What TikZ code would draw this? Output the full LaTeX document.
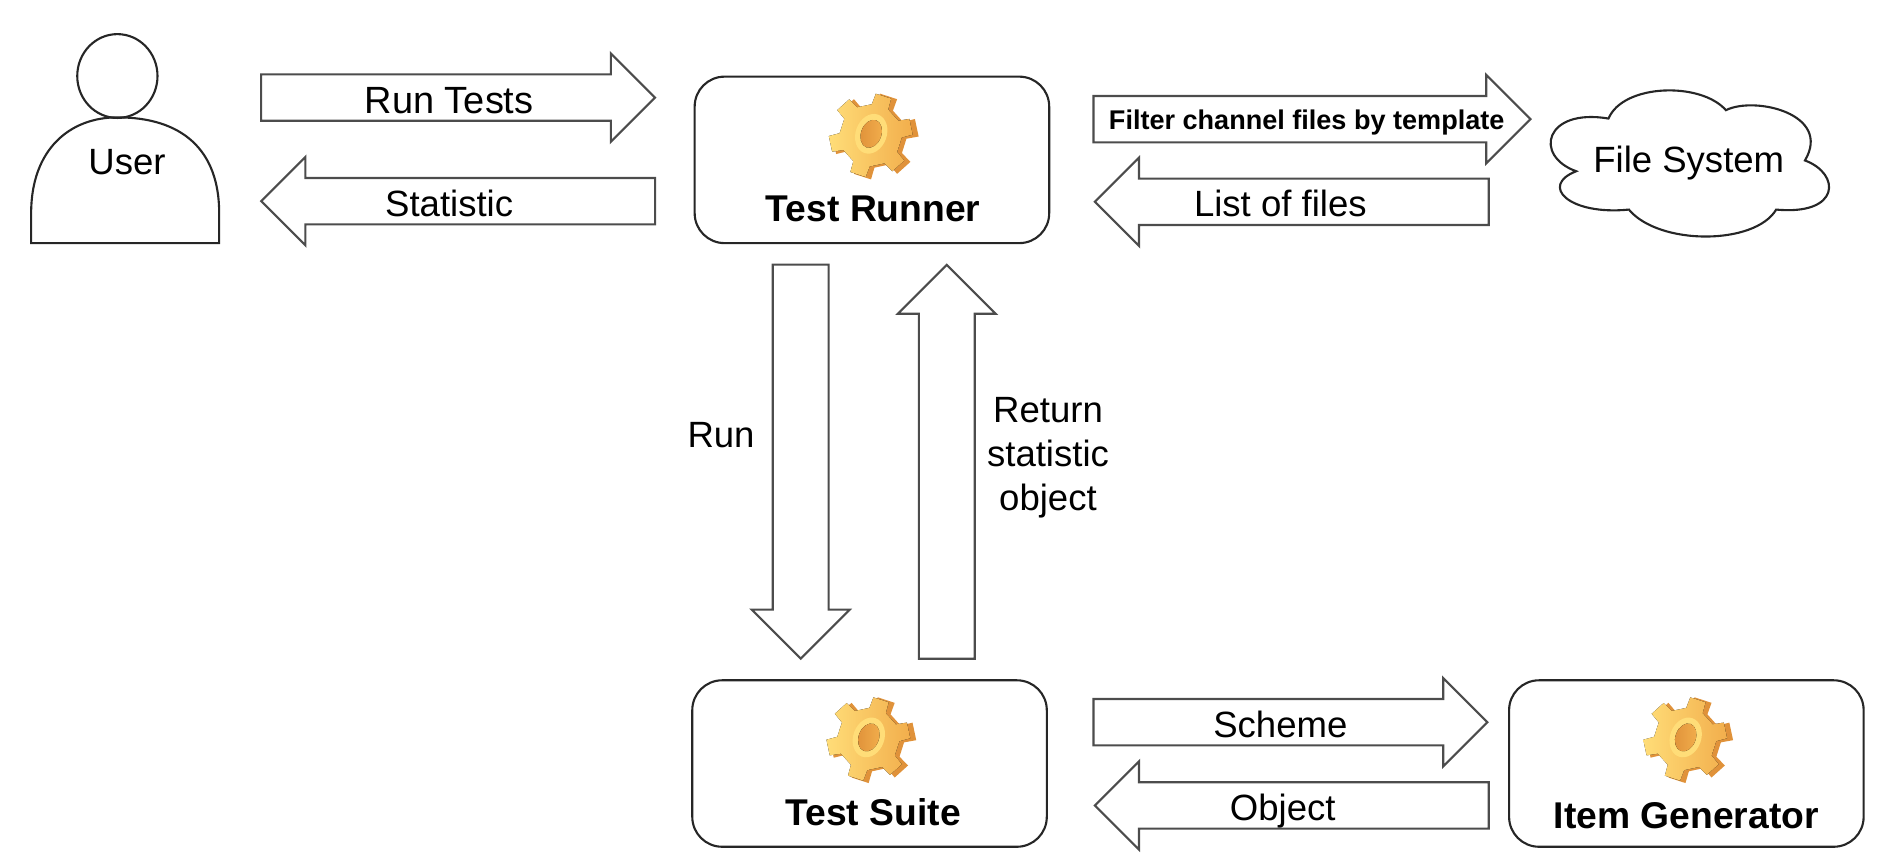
\documentclass[tikz,border=0pt]{standalone}
\usepackage{fontspec}
\setmainfont{Liberation Sans}
\usetikzlibrary{positioning,shapes.arrows}
\definecolor{gearlight}{HTML}{FFDD78}
\definecolor{gearmid}{HTML}{F2AE4C}
\definecolor{geardark}{HTML}{E0923A}
\tikzset{
  label text/.style={font=\fontsize{10.4}{12.5}\selectfont, align=center},
  title text/.style={font=\fontsize{10.6}{12.5}\selectfont\bfseries},
  boxnode/.style={draw=black!85, line width=0.6pt, rounded corners=8.5pt, minimum width=3.546cm, minimum height=1.665cm},
  blockarrow/.style={single arrow, draw=black!70, line width=0.6pt, outer sep=0pt, inner xsep=0pt, inner ysep=6.3pt,
    single arrow head extend=0.21cm, minimum height=3.94cm},
  uparrow/.style={blockarrow, inner ysep=7.66pt},
  pics/gearicon/.style={code={
    \begin{scope}[yscale=-1]
      % back of the gear
      \fill[geardark, shift={(3,-1)}] (-3:26) \foreach \a in {12,72,...,312} {
        -- (\a-16:26) -- (\a-12:36) -- (\a+12:36) -- (\a+16:26) } -- cycle;
      % front of the gear
      \fill[left color=gearlight, right color=gearmid, shift={(-1,0)}] (-4:26) \foreach \a in {12,72,...,312} {
        -- (\a-16:26) -- (\a-11:35) -- (\a+11:35) -- (\a+16:26) } -- cycle;
      % hole
      \fill[gearlight, rotate=-70] (1,1) ellipse (17 and 13);
      \fill[left color=geardark, right color=gearmid, rotate=-70] (1,1) ellipse (12 and 8.5);
    \end{scope}
  }}
}
\begin{document}
\begin{tikzpicture}[x=0.1198mm,y=-0.1198mm]
    \useasboundingbox (0,0) rectangle (1568,723);

    % User
    \draw[black!85, line width=0.6pt] (26,203) -- (26,178) .. controls (26,125) and (58,98) .. (98,98)
        .. controls (152,98) and (183,125) .. (183,178) -- (183,203) -- cycle;
    \draw[black!85, line width=0.6pt] (98,63.5) ellipse (33.5 and 35);
    \node[label text] (user) at (106,135) {User};

    % Boxes
    \node[boxnode] (runner) at (728,133.5) {};
    \node[boxnode] (suite) at (726,637.5) {};
    \node[boxnode] (generator) at (1408,637.5) {};
    \pic at (728,113) {gearicon};
    \pic at (726,617) {gearicon};
    \pic at (1408,617) {gearicon};
    \node[title text] (runnertitle) at (729,174) {Test Runner};
    \node[title text] (suitetitle) at (729,678) {Test Suite};
    \node[title text] (generatortitle) at (1408,681) {Item Generator};

    % File system
    \draw[black!85, line width=0.6pt] (1343,99) .. controls (1355,70) and (1420,68) .. (1441,92)
        .. controls (1465,80) and (1530,95) .. (1507,134)
        .. controls (1537,145) and (1537,180) .. (1483,175)
        .. controls (1465,205) and (1385,205) .. (1360,175)
        .. controls (1310,180) and (1285,155) .. (1316,143)
        .. controls (1280,130) and (1290,90) .. cycle;
    \node[label text] (files) at (1410,136) {File System};

    % Arrows
    \node[blockarrow, anchor=tail] (runarrow) at (218,81.5) {};
    \node[blockarrow, anchor=tail, rotate=180] (statarrow) at (547,168) {};
    \node[blockarrow, anchor=tail, minimum height=4.37cm] (filterarrow) at (913,99.5) {};
    \node[blockarrow, anchor=tail, rotate=180] (listarrow) at (1243,168.5) {};
    \node[blockarrow, anchor=tail] (schemearrow) at (913,603) {};
    \node[blockarrow, anchor=tail, rotate=180] (objectarrow) at (1243,672.5) {};
    \node[uparrow, anchor=tail, rotate=270] (downarrow) at (668.5,221) {};
    \node[uparrow, anchor=tail, rotate=90] (backarrow) at (790.5,550) {};

    % Arrow labels
    \node[label text, font=\fontsize{10.8}{12.5}\selectfont] (runlabel) at (375,84) {Run Tests};
    \node[label text] (statlabel) at (375,170) {Statistic};
    \node[font=\fontsize{7.7}{9}\selectfont\bfseries] (filterlabel) at (1091,102) {Filter channel files by template};
    \node[label text] (listlabel) at (1069,170) {List of files};
    \node[label text] (schemelabel) at (1069,605) {Scheme};
    \node[label text] (objectlabel) at (1071,677) {Object};
    \node[label text] (downlabel) at (602,363) {Run};
    \node[label text] (backlabel) at (875,382) {Return\\statistic\\object};
\end{tikzpicture}
\end{document}
